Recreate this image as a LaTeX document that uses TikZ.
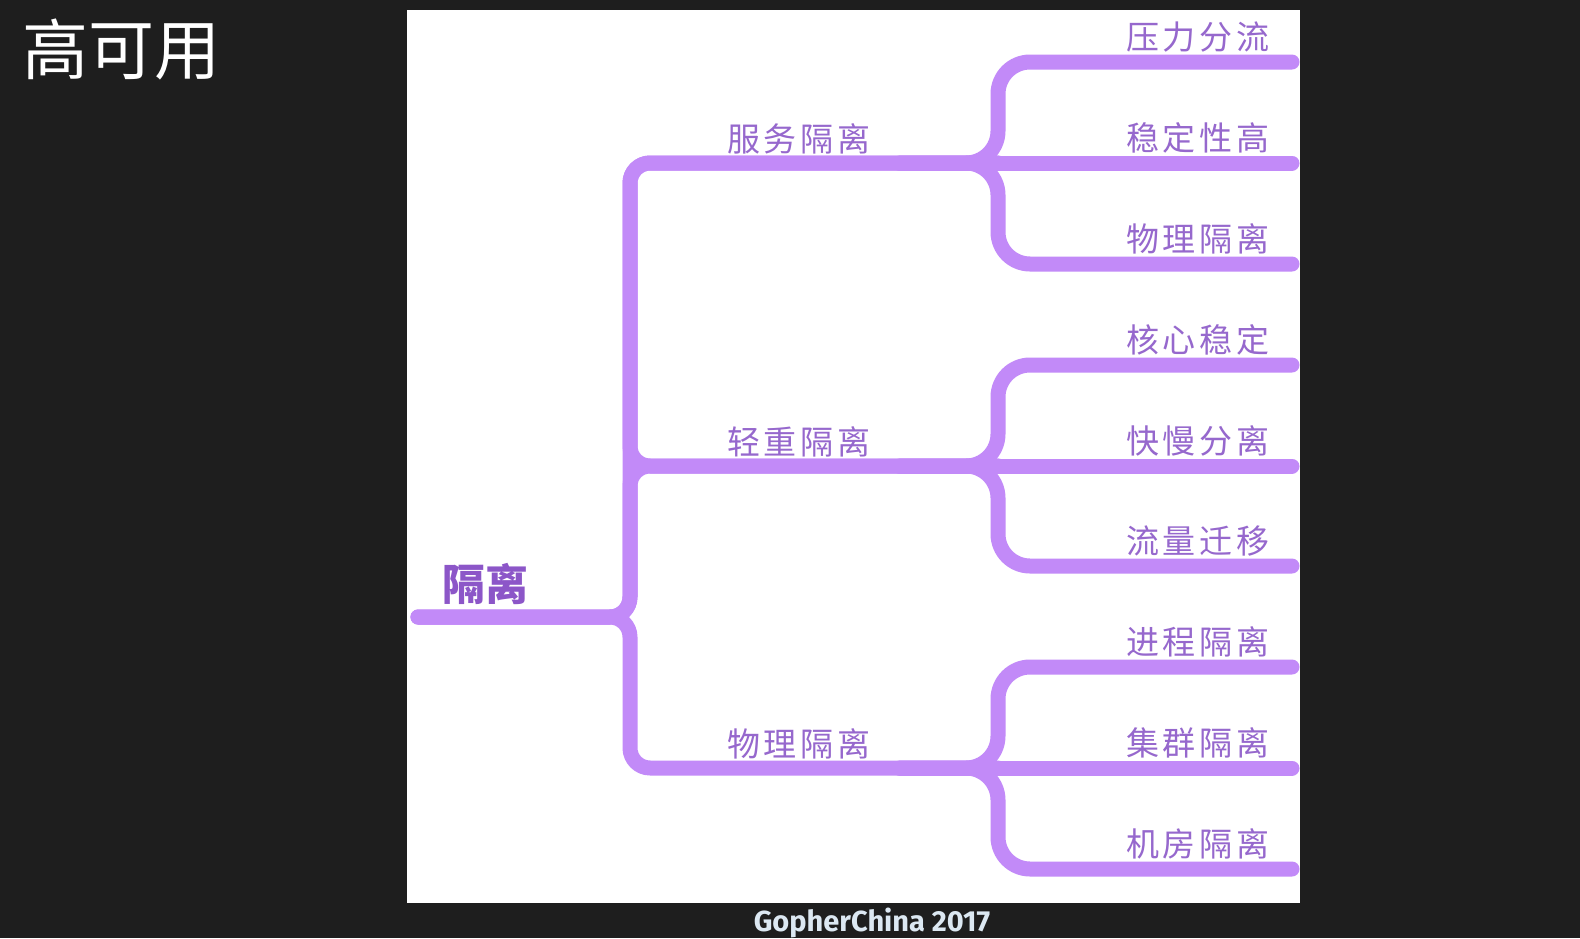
\documentclass[tikz,border=0pt]{standalone}
\usepackage{fontspec}
\setmainfont{Fira Sans}
\newfontfamily\cjk{Noto Sans CJK SC}
\newfontfamily\cjksp[LetterSpace=12]{Noto Sans CJK SC}
\definecolor{bgdark}{RGB}{30,30,30}
\definecolor{branchc}{RGB}{194,138,248}
\definecolor{labelc}{RGB}{150,104,205}
\definecolor{rootc}{RGB}{140,86,200}
\definecolor{footc}{RGB}{220,232,242}
\tikzset{
  br/.style={draw=branchc, line width=15pt, line cap=round, line join=round},
  lone/.style={br, rounded corners=20pt},
  ltwo/.style={br, rounded corners=32pt},
  leaflbl/.style={inner sep=0pt, text=labelc, font=\cjksp\fontsize{33pt}{36pt}\selectfont},
  rootlbl/.style={inner sep=0pt, text=rootc, font=\cjk\bfseries\fontsize{43pt}{46pt}\selectfont},
}
\begin{document}
\begin{tikzpicture}[x=1pt,y=-1pt]
\useasboundingbox (0,0) rectangle (1580,938);
\fill[bgdark] (0,0) rectangle (1580,938);
\fill[white] (407,10) rectangle (1300,903);
\node[inner sep=0pt, text=white, font=\cjk\fontsize{66pt}{70pt}\selectfont] (title) at (122,49) {高可用};
\node[inner sep=0pt, text=footc, font=\bfseries\fontsize{29pt}{32pt}\selectfont] (foot) at (872,923) {GopherChina 2017};

% coordinates
\coordinate (r0) at (418,617);
\coordinate (j1) at (630,617);
\coordinate (a1) at (630,163);
\coordinate (a2) at (630,466);
\coordinate (a3) at (630,768);
\coordinate (b1) at (998,163);
\coordinate (b2) at (998,466);
\coordinate (b3) at (998,768);

% level 1
\draw[lone] (r0) -- (j1) -- (a1) -- (b1);
\draw[lone] (r0) -- (j1) -- (a2) -- (b2);
\draw[lone] (b1) -- (a1) -- (a2) -- (b2);
\draw[lone] (r0) -- (j1) -- (a3) -- (b3);

% level 2
\foreach \b/\y/\ya/\yb/\yc in {b1/163/62/163/264, b2/466/365/466/566, b3/768/667/768/869}{
  \draw[ltwo] (900,\y) -- (\b) -- (998,\ya) -- (1292,\ya);
  \draw[br] (900,\y) -- (1292,\yb);
  \draw[ltwo] (900,\y) -- (\b) -- (998,\yc) -- (1292,\yc);
}

% labels
\node[rootlbl] (root) at (485,584) {隔离};
\node[leaflbl] (s1) at (799,139) {服务隔离};
\node[leaflbl] (s2) at (799,442) {轻重隔离};
\node[leaflbl] (s3) at (799,744) {物理隔离};

\node[leaflbl] (l1) at (1198,37) {压力分流};
\node[leaflbl] (l2) at (1198,138) {稳定性高};
\node[leaflbl] (l3) at (1198,239) {物理隔离};
\node[leaflbl] (l4) at (1198,340) {核心稳定};
\node[leaflbl] (l5) at (1198,441) {快慢分离};
\node[leaflbl] (l6) at (1198,541) {流量迁移};
\node[leaflbl] (l7) at (1198,642) {进程隔离};
\node[leaflbl] (l8) at (1198,743) {集群隔离};
\node[leaflbl] (l9) at (1198,844) {机房隔离};
\end{tikzpicture}
\end{document}
